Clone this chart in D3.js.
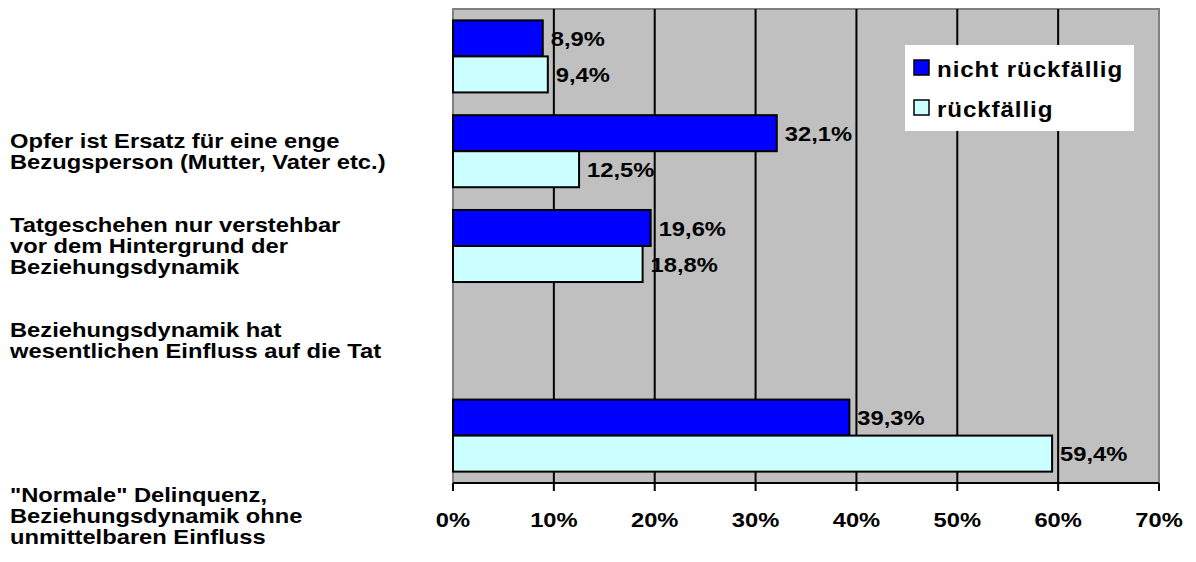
<!DOCTYPE html>
<html>
<head>
<meta charset="utf-8">
<script src="https://cdn.jsdelivr.net/npm/d3@7"></script>
<style>
  body { margin: 0; background: #fff; }
  text { font-family: "Liberation Sans", Arial, sans-serif; font-weight: bold; fill: #000; }
</style>
</head>
<body>
<script>
// categories top to bottom, each label split into its lines
var categories = ["c1", "c2", "c3", "c4", "c5"];
var categoryLines = [
  [],
  ["Opfer ist Ersatz für eine enge", "Bezugsperson (Mutter, Vater etc.)"],
  ["Tatgeschehen nur verstehbar", "vor dem Hintergrund der", "Beziehungsdynamik"],
  ["Beziehungsdynamik hat", "wesentlichen Einfluss auf die Tat"],
  ["\"Normale\" Delinquenz,", "Beziehungsdynamik ohne", "unmittelbaren Einfluss"]
];
var seriesNames = ["nicht rückfällig", "rückfällig"];
var nichtRueckfaellig = [8.9, 32.1, 19.6, null, 39.3];
var rueckfaellig = [9.4, 12.5, 18.8, null, 59.4];
var ticks = [0, 10, 20, 30, 40, 50, 60, 70];

var width = 1196, height = 562;
var plotL = 453, plotR = 1159, plotT = 9, plotB = 483;
var colors = ["#0000ff", "#ccffff"];
var fs = "21px";
var sx = 1.13; // text looks stretched horizontally

var rows = categories.map(function(c, i) {
  return { cat: c, lines: categoryLines[i], values: [nichtRueckfaellig[i], rueckfaellig[i]] };
});

var svg = d3.select("body").append("svg")
  .attr("width", width)
  .attr("height", height);

var x = d3.scaleLinear().domain([0, 70]).range([plotL, plotR]);
var y = d3.scaleBand().domain(categories).range([plotT, plotB])
  .paddingInner(0.24).paddingOuter(0.12);
var ySub = d3.scaleBand().domain([0, 1]).range([0, y.bandwidth()]);

function stretched(sel, xx, yy, anchor, k) {
  return sel.attr("text-anchor", anchor || "start")
    .attr("transform", "translate(" + xx + "," + yy + ") scale(" + (k || sx) + ",1)");
}

function bars(d) {
  return d.values.map(function(v, k) { return { v: v, k: k }; })
    .filter(function(e) { return e.v != null; });
}

// plot background
svg.append("rect")
  .attr("x", plotL).attr("y", plotT)
  .attr("width", plotR - plotL).attr("height", plotB - plotT)
  .attr("fill", "#c0c0c0")
  .attr("stroke", "#808080").attr("stroke-width", 2);

// vertical gridlines
svg.selectAll(".grid")
  .data(ticks.slice(1, -1))
  .enter().append("line")
  .attr("x1", function(d) { return x(d); })
  .attr("x2", function(d) { return x(d); })
  .attr("y1", plotT).attr("y2", plotB)
  .attr("stroke", "#000").attr("stroke-width", 2);

// bars
var g = svg.selectAll(".row")
  .data(rows)
  .enter().append("g")
  .attr("transform", function(d) { return "translate(0," + y(d.cat) + ")"; });

g.selectAll("rect")
  .data(bars)
  .enter().append("rect")
  .attr("x", x(0))
  .attr("y", function(d) { return ySub(d.k); })
  .attr("width", function(d) { return x(d.v) - x(0); })
  .attr("height", ySub.bandwidth())
  .attr("fill", function(d) { return colors[d.k]; })
  .attr("stroke", "#000").attr("stroke-width", 2);

g.selectAll("text.val")
  .data(bars)
  .enter().append("text")
  .attr("class", "val")
  .style("font-size", fs)
  .attr("dy", "0.36em")
  .each(function(d) {
    stretched(d3.select(this), x(d.v) + 8, ySub(d.k) + ySub.bandwidth() / 2);
  })
  .text(function(d) { return d3.format(".1f")(d.v).replace(".", ",") + "%"; });

// axis line and ticks
svg.append("line")
  .attr("x1", plotL).attr("x2", plotR)
  .attr("y1", plotB).attr("y2", plotB)
  .attr("stroke", "#000").attr("stroke-width", 2);

svg.selectAll(".tick")
  .data(ticks)
  .enter().append("line")
  .attr("x1", function(d) { return x(d); })
  .attr("x2", function(d) { return x(d); })
  .attr("y1", plotB).attr("y2", plotB + 8)
  .attr("stroke", "#000").attr("stroke-width", 2);

svg.selectAll(".ticklabel")
  .data(ticks)
  .enter().append("text")
  .style("font-size", fs)
  .each(function(d) { stretched(d3.select(this), x(d), 527, "middle"); })
  .text(function(d) { return d + "%"; });

// category labels, the last one sits lower in the original
var lineH = 21;
svg.selectAll(".cat")
  .data(rows)
  .enter().append("g")
  .each(function(d, i) {
    var n = d.lines.length;
    var shift = i === rows.length - 1 ? 80 : 0;
    var y0 = y(d.cat) + y.bandwidth() / 2 - (n - 1) * lineH / 2 + 7 + shift;
    var sel = d3.select(this);
    d.lines.forEach(function(line, j) {
      stretched(sel.append("text").style("font-size", fs), 10, y0 + j * lineH).text(line);
    });
  });

// legend
var legend = svg.append("g").attr("transform", "translate(905,45)");
legend.append("rect")
  .attr("width", 229).attr("height", 86)
  .attr("fill", "#fff");

var item = legend.selectAll(".item")
  .data(seriesNames)
  .enter().append("g")
  .attr("transform", function(d, i) { return "translate(9," + (15 + i * 40) + ")"; });

item.append("rect")
  .attr("width", 15).attr("height", 15)
  .attr("fill", function(d, i) { return colors[i]; })
  .attr("stroke", "#000").attr("stroke-width", 1.5);

item.append("text")
  .style("font-size", "22px")
  .style("letter-spacing", "0.8px")
  .each(function() { stretched(d3.select(this), 23, 16.5, "start", 1.1); })
  .text(function(d) { return d; });
</script>
</body>
</html>
